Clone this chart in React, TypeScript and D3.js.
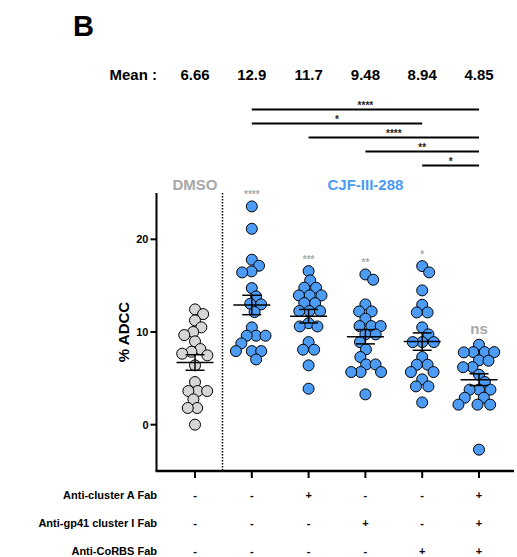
import * as d3 from 'd3';

const groups = ['DMSO', 'CJF', 'CJF+A', 'CJF+gp41', 'CJF+CoRBS', 'CJF+all'];
const dmso = [12.44, 11.93, 11.25, 10.5, 10.0, 9.67, 8.99, 8.16, 7.87, 7.66, 7.48, 6.4, 4.6, 3.63, 3.63, 3.63, 2.73, 1.8, 1.8, 0.0];
const cjf = [23.55, 21.14, 17.8, 17.15, 16.54, 16.43, 14.74, 13.84, 13.05, 12.98, 12.15, 10.5, 9.6, 9.6, 9.6, 8.77, 7.94, 7.94, 7.94, 7.04];
const cjfA = [16.57, 15.57, 14.78, 14.78, 13.95, 13.95, 13.95, 13.12, 13.12, 12.26, 12.26, 12.26, 10.95, 10.6, 10.6, 8.91, 8.09, 8.09, 6.4, 3.88];
const cjfGp41 = [16.21, 15.64, 12.98, 12.22, 12.22, 11.43, 10.64, 10.64, 10.64, 9.74, 9.74, 8.91, 8.12, 7.3, 6.5, 6.5, 5.68, 5.68, 5.68, 3.27];
const cjfCorbs = [17.11, 16.43, 14.49, 12.94, 12.11, 12.11, 10.5, 9.74, 8.91, 8.91, 8.91, 7.3, 6.47, 6.47, 5.68, 5.68, 4.89, 4.13, 4.13, 2.4];
const cjfAll = [8.63, 7.83, 7.83, 7.83, 7.8, 6.94, 6.9, 6.21, 6.2, 5.39, 4.6, 3.78, 3.78, 3.78, 2.91, 2.91, 2.16, 2.16, 2.16, -2.7];
const seriesValues = [dmso, cjf, cjfA, cjfGp41, cjfCorbs, cjfAll];

const meanLabels = ['6.66', '12.9', '11.7', '9.48', '8.94', '4.85'];
const groupStars = ['', '****', '***', '**', '*', 'ns'];
const comparisons = [
  { from: 1, to: 5, label: '****' },
  { from: 1, to: 4, label: '*' },
  { from: 2, to: 5, label: '****' },
  { from: 3, to: 5, label: '**' },
  { from: 4, to: 5, label: '*' },
];
const yTicks = [0, 10, 20];
const rowLabels = ['Anti-cluster A Fab', 'Anti-gp41 cluster I Fab', 'Anti-CoRBS Fab'];
const rowSigns = [
  ['-', '-', '+', '-', '-', '+'],
  ['-', '-', '-', '+', '-', '+'],
  ['-', '-', '-', '-', '+', '+'],
];

const FONT = '"Liberation Sans", Arial, Helvetica, sans-serif';
const BLUE = '#4c9bf4';
const GREY = '#d6d6d6';
const R = 5.5;

// simple beeswarm: place each point as close to the centre as possible
function swarm(ys: number[], sep: number) {
  const placed: { x: number; y: number }[] = [];
  const order = ys.map((y, i) => ({ y, i })).sort((a, b) => a.y - b.y);
  const out: number[] = new Array(ys.length).fill(0);
  for (const { y, i } of order) {
    const near = placed.filter(p => Math.abs(p.y - y) < sep);
    const cands = [0];
    near.forEach(p => {
      const dx = Math.sqrt(sep * sep - (p.y - y) * (p.y - y));
      cands.push(p.x + dx, p.x - dx);
    });
    cands.sort((a, b) => Math.abs(a) - Math.abs(b));
    const x = cands.find(c => near.every(p => (c - p.x) ** 2 + (y - p.y) ** 2 >= sep * sep - 0.01)) ?? 0;
    placed.push({ x, y });
    out[i] = x;
  }
  return out;
}

export default function App() {
  const width = 517;
  const height = 557;
  const axisLeft = 156.5;
  const axisRight = 514;

  const x = d3.scalePoint<string>().domain(groups).range([195, 479]);
  const y = d3.scaleLinear().domain([-5, 25]).range([471, 193]);

  const compY = d3.scaleLinear().domain([0, 1]).range([109.5, 123.5]);
  const rowY = d3.scaleLinear().domain([0, 1]).range([499, 527]);

  return (
    <svg width={width} height={height} style={{ position: 'absolute', left: 0, top: 0 }} fontFamily={FONT}>
      <rect width={width} height={height} fill="#fff" />
      <text x={73} y={36} fontSize={29} fontWeight="bold">B</text>

      {/* means row */}
      <text x={157} y={80} fontSize={15} fontWeight="bold" textAnchor="end">Mean :</text>
      {groups.map((g, i) => (
        <text key={g} x={x(g)} y={80} fontSize={15} fontWeight="bold" textAnchor="middle">{meanLabels[i]}</text>
      ))}

      {/* comparison brackets */}
      {comparisons.map((c, i) => {
        const x1 = x(groups[c.from])!;
        const x2 = x(groups[c.to])!;
        const yy = compY(i);
        return (
          <g key={i}>
            <line x1={x1} x2={x2} y1={yy} y2={yy} stroke="#000" strokeWidth={2} />
            <text x={(x1 + x2) / 2} y={yy - 0.5} fontSize={10} fontWeight="bold" textAnchor="middle" fill="#222">{c.label}</text>
          </g>
        );
      })}

      <text x={x(groups[0])} y={190} fontSize={15} fontWeight="bold" fill="#a8a8a8" textAnchor="middle">DMSO</text>
      <text x={(x(groups[1])! + x(groups[5])!) / 2} y={190} fontSize={15} fontWeight="bold" fill={BLUE} textAnchor="middle">CJF-III-288</text>

      {/* axes */}
      <line x1={axisLeft} x2={axisLeft} y1={y(25)} y2={y(-5)} stroke="#000" strokeWidth={2} />
      <line x1={axisLeft - 1} x2={axisRight} y1={y(-5)} y2={y(-5)} stroke="#000" strokeWidth={2.5} />
      {yTicks.map(t => (
        <g key={t}>
          <line x1={axisLeft - 6} x2={axisLeft} y1={y(t)} y2={y(t)} stroke="#000" strokeWidth={2} />
          <text x={axisLeft - 8} y={y(t) + 4} fontSize={11} fontWeight="bold" textAnchor="end">{t}</text>
        </g>
      ))}
      {groups.map(g => (
        <line key={g} x1={x(g)} x2={x(g)} y1={y(-5)} y2={y(-5) + 7} stroke="#000" strokeWidth={2} />
      ))}
      <text transform={`translate(129,${y(10)}) rotate(-90)`} fontSize={15} fontWeight="bold" textAnchor="middle">% ADCC</text>

      {/* dotted separator */}
      <line x1={222.5} x2={222.5} y1={y(25)} y2={y(-5)} stroke="#000" strokeWidth={1.5} strokeDasharray="1.5,1.5" />

      {/* points */}
      {seriesValues.map((vals, gi) => {
        const g = groups[gi];
        const cx = x(g)!;
        const offs = swarm(vals.map(v => y(v)), 9.4);
        const mean = d3.mean(vals)!;
        const sem = d3.deviation(vals)! / Math.sqrt(vals.length);
        const top = y(d3.max(vals)!);
        return (
          <g key={g}>
            {vals.map((v, i) => (
              <circle key={i} cx={cx + offs[i]} cy={y(v)} r={R} fill={gi === 0 ? GREY : BLUE} stroke="#000" strokeWidth={1} />
            ))}
            <line x1={cx - 18.5} x2={cx + 18.5} y1={y(mean)} y2={y(mean)} stroke="#000" strokeWidth={1.5} />
            <line x1={cx - 9.5} x2={cx + 9.5} y1={y(mean + sem)} y2={y(mean + sem)} stroke="#000" strokeWidth={1.5} />
            <line x1={cx - 9.5} x2={cx + 9.5} y1={y(mean - sem)} y2={y(mean - sem)} stroke="#000" strokeWidth={1.5} />
            <line x1={cx} x2={cx} y1={y(mean + sem)} y2={y(mean - sem)} stroke="#000" strokeWidth={1.5} />
            {groupStars[gi] === 'ns' ? (
              <text x={cx} y={top - 11} fontSize={15} fontWeight="bold" fill="#a8a8a8" textAnchor="middle">ns</text>
            ) : groupStars[gi] ? (
              <text x={cx} y={top - 8} fontSize={10} fontWeight="bold" fill="#a8a8a8" textAnchor="middle">{groupStars[gi]}</text>
            ) : null}
          </g>
        );
      })}

      {/* treatment table */}
      {rowLabels.map((lab, ri) => (
        <g key={lab}>
          <text x={157} y={rowY(ri)} fontSize={11} fontWeight="bold" textAnchor="end">{lab}</text>
          {groups.map((g, gi) => (
            <text key={g} x={x(g)} y={rowY(ri)} fontSize={11} fontWeight="bold" textAnchor="middle">{rowSigns[ri][gi]}</text>
          ))}
        </g>
      ))}
    </svg>
  );
}
